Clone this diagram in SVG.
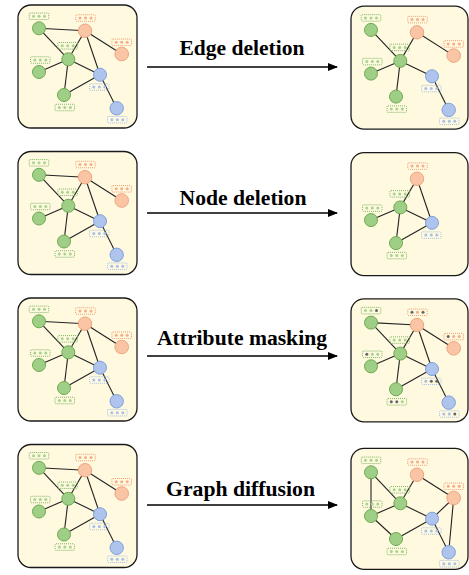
<svg xmlns="http://www.w3.org/2000/svg" width="469" height="575" viewBox="0 0 469 575">
<style>
.panel{fill:#fef9df;stroke:#1a1a1a;stroke-width:1.3}
.edges line{stroke:#222;stroke-width:1.1}
.ng{fill:#9fcf86;stroke:#6eaa52;stroke-width:1}
.no{fill:#f9c5a5;stroke:#f0a57f;stroke-width:1}
.nb{fill:#aec4ec;stroke:#7fa0da;stroke-width:1}
.lab{fill:none;stroke-width:1;stroke-dasharray:1 1}
.lg{stroke:#7db562}.lo{stroke:#f29a6c}.lb{stroke:#a8bfe8}
.dg{fill:#a8d48e}.do{fill:#f4ae88}.db{fill:#a9c1ea}.dm{fill:#666}
.arrow{stroke:#000;stroke-width:1.3;fill:none}
.t{font-family:"Liberation Serif","Times New Roman",serif;font-weight:bold;font-size:20px;fill:#000;text-anchor:middle}
</style>
<defs>
<marker id="ah" markerWidth="10" markerHeight="8" refX="9" refY="4" orient="auto" markerUnits="userSpaceOnUse">
<path d="M0,0 L10,4 L0,8 Z" fill="#000"/>
</marker>
<g id="lab-g"><rect class="lab lg" x="-9.75" y="-3.25" width="19.5" height="6.5" rx="1"/><circle class="dg" cx="-5.5" cy="0" r="1.5"/><circle class="dg" cx="0" cy="0" r="1.5"/><circle class="dg" cx="5.5" cy="0" r="1.5"/></g>
<g id="lab-o"><rect class="lab lo" x="-9.75" y="-3.25" width="19.5" height="6.5" rx="1"/><circle class="do" cx="-5.5" cy="0" r="1.5"/><circle class="do" cx="0" cy="0" r="1.5"/><circle class="do" cx="5.5" cy="0" r="1.5"/></g>
<g id="lab-b"><rect class="lab lb" x="-9.75" y="-3.25" width="19.5" height="6.5" rx="1"/><circle class="db" cx="-5.5" cy="0" r="1.5"/><circle class="db" cx="0" cy="0" r="1.5"/><circle class="db" cx="5.5" cy="0" r="1.5"/></g>
</defs>

<!-- Row 1 left -->
<g id="row1-left" transform="translate(0,0)">
<rect class="panel" x="18" y="5" width="119" height="123" rx="13"/>
<g class="edges">
<line x1="39" y1="28.3" x2="85" y2="30.7"/><line x1="39" y1="28.3" x2="68.3" y2="59.3"/><line x1="85" y1="30.7" x2="68.3" y2="59.3"/><line x1="85" y1="30.7" x2="121.7" y2="54"/><line x1="85" y1="30.7" x2="100" y2="74.7"/><line x1="68.3" y1="59.3" x2="39" y2="72"/><line x1="68.3" y1="59.3" x2="100" y2="74.7"/><line x1="68.3" y1="59.3" x2="64" y2="95"/><line x1="64" y1="95" x2="100" y2="74.7"/><line x1="100" y1="74.7" x2="116.7" y2="108.3"/>
</g>
<g id="r1l-g1"><circle class="ng" cx="39" cy="28.3" r="6.5"/><use href="#lab-g" x="39" y="16.3"/></g>
<g id="r1l-o1"><circle class="no" cx="85" cy="30.7" r="6.7"/><use href="#lab-o" x="85.5" y="18"/></g>
<g id="r1l-o2"><circle class="no" cx="121.7" cy="54" r="6.8"/><use href="#lab-o" x="121.7" y="42.3"/></g>
<g id="r1l-g2"><circle class="ng" cx="68.3" cy="59.3" r="6.5"/><use href="#lab-g" x="67.7" y="45.8"/></g>
<g id="r1l-g3"><circle class="ng" cx="39" cy="72" r="6.5"/><use href="#lab-g" x="40.3" y="60"/></g>
<g id="r1l-b1"><circle class="nb" cx="100" cy="74.7" r="6.5"/><use href="#lab-b" x="99.3" y="87"/></g>
<g id="r1l-g4"><circle class="ng" cx="64" cy="95" r="6.5"/><use href="#lab-g" x="64.8" y="107.5"/></g>
<g id="r1l-b2"><circle class="nb" cx="116.7" cy="108.3" r="6.7"/><use href="#lab-b" x="117.3" y="119.7"/></g>
</g>

<!-- Row 2 left -->
<g id="row2-left" transform="translate(0,146.5)">
<rect class="panel" x="18" y="5" width="119" height="123" rx="13"/>
<g class="edges">
<line x1="39" y1="28.3" x2="85" y2="30.7"/><line x1="39" y1="28.3" x2="68.3" y2="59.3"/><line x1="85" y1="30.7" x2="68.3" y2="59.3"/><line x1="85" y1="30.7" x2="121.7" y2="54"/><line x1="85" y1="30.7" x2="100" y2="74.7"/><line x1="68.3" y1="59.3" x2="39" y2="72"/><line x1="68.3" y1="59.3" x2="100" y2="74.7"/><line x1="68.3" y1="59.3" x2="64" y2="95"/><line x1="64" y1="95" x2="100" y2="74.7"/><line x1="100" y1="74.7" x2="116.7" y2="108.3"/>
</g>
<g id="r2l-g1"><circle class="ng" cx="39" cy="28.3" r="6.5"/><use href="#lab-g" x="39" y="16.3"/></g>
<g id="r2l-o1"><circle class="no" cx="85" cy="30.7" r="6.7"/><use href="#lab-o" x="85.5" y="18"/></g>
<g id="r2l-o2"><circle class="no" cx="121.7" cy="54" r="6.8"/><use href="#lab-o" x="121.7" y="42.3"/></g>
<g id="r2l-g2"><circle class="ng" cx="68.3" cy="59.3" r="6.5"/><use href="#lab-g" x="67.7" y="45.8"/></g>
<g id="r2l-g3"><circle class="ng" cx="39" cy="72" r="6.5"/><use href="#lab-g" x="40.3" y="60"/></g>
<g id="r2l-b1"><circle class="nb" cx="100" cy="74.7" r="6.5"/><use href="#lab-b" x="99.3" y="87"/></g>
<g id="r2l-g4"><circle class="ng" cx="64" cy="95" r="6.5"/><use href="#lab-g" x="64.8" y="107.5"/></g>
<g id="r2l-b2"><circle class="nb" cx="116.7" cy="108.3" r="6.7"/><use href="#lab-b" x="117.3" y="119.7"/></g>
</g>

<!-- Row 3 left -->
<g id="row3-left" transform="translate(0,293)">
<rect class="panel" x="18" y="5" width="119" height="123" rx="13"/>
<g class="edges">
<line x1="39" y1="28.3" x2="85" y2="30.7"/><line x1="39" y1="28.3" x2="68.3" y2="59.3"/><line x1="85" y1="30.7" x2="68.3" y2="59.3"/><line x1="85" y1="30.7" x2="121.7" y2="54"/><line x1="85" y1="30.7" x2="100" y2="74.7"/><line x1="68.3" y1="59.3" x2="39" y2="72"/><line x1="68.3" y1="59.3" x2="100" y2="74.7"/><line x1="68.3" y1="59.3" x2="64" y2="95"/><line x1="64" y1="95" x2="100" y2="74.7"/><line x1="100" y1="74.7" x2="116.7" y2="108.3"/>
</g>
<g id="r3l-g1"><circle class="ng" cx="39" cy="28.3" r="6.5"/><use href="#lab-g" x="39" y="16.3"/></g>
<g id="r3l-o1"><circle class="no" cx="85" cy="30.7" r="6.7"/><use href="#lab-o" x="85.5" y="18"/></g>
<g id="r3l-o2"><circle class="no" cx="121.7" cy="54" r="6.8"/><use href="#lab-o" x="121.7" y="42.3"/></g>
<g id="r3l-g2"><circle class="ng" cx="68.3" cy="59.3" r="6.5"/><use href="#lab-g" x="67.7" y="45.8"/></g>
<g id="r3l-g3"><circle class="ng" cx="39" cy="72" r="6.5"/><use href="#lab-g" x="40.3" y="60"/></g>
<g id="r3l-b1"><circle class="nb" cx="100" cy="74.7" r="6.5"/><use href="#lab-b" x="99.3" y="87"/></g>
<g id="r3l-g4"><circle class="ng" cx="64" cy="95" r="6.5"/><use href="#lab-g" x="64.8" y="107.5"/></g>
<g id="r3l-b2"><circle class="nb" cx="116.7" cy="108.3" r="6.7"/><use href="#lab-b" x="117.3" y="119.7"/></g>
</g>

<!-- Row 4 left -->
<g id="row4-left" transform="translate(0,439.5)">
<rect class="panel" x="18" y="5" width="119" height="123" rx="13"/>
<g class="edges">
<line x1="39" y1="28.3" x2="85" y2="30.7"/><line x1="39" y1="28.3" x2="68.3" y2="59.3"/><line x1="85" y1="30.7" x2="68.3" y2="59.3"/><line x1="85" y1="30.7" x2="121.7" y2="54"/><line x1="85" y1="30.7" x2="100" y2="74.7"/><line x1="68.3" y1="59.3" x2="39" y2="72"/><line x1="68.3" y1="59.3" x2="100" y2="74.7"/><line x1="68.3" y1="59.3" x2="64" y2="95"/><line x1="64" y1="95" x2="100" y2="74.7"/><line x1="100" y1="74.7" x2="116.7" y2="108.3"/>
</g>
<g id="r4l-g1"><circle class="ng" cx="39" cy="28.3" r="6.5"/><use href="#lab-g" x="39" y="16.3"/></g>
<g id="r4l-o1"><circle class="no" cx="85" cy="30.7" r="6.7"/><use href="#lab-o" x="85.5" y="18"/></g>
<g id="r4l-o2"><circle class="no" cx="121.7" cy="54" r="6.8"/><use href="#lab-o" x="121.7" y="42.3"/></g>
<g id="r4l-g2"><circle class="ng" cx="68.3" cy="59.3" r="6.5"/><use href="#lab-g" x="67.7" y="45.8"/></g>
<g id="r4l-g3"><circle class="ng" cx="39" cy="72" r="6.5"/><use href="#lab-g" x="40.3" y="60"/></g>
<g id="r4l-b1"><circle class="nb" cx="100" cy="74.7" r="6.5"/><use href="#lab-b" x="99.3" y="87"/></g>
<g id="r4l-g4"><circle class="ng" cx="64" cy="95" r="6.5"/><use href="#lab-g" x="64.8" y="107.5"/></g>
<g id="r4l-b2"><circle class="nb" cx="116.7" cy="108.3" r="6.7"/><use href="#lab-b" x="117.3" y="119.7"/></g>
</g>

<!-- Row 1 right: edge deletion -->
<g id="row1-right" transform="translate(332,1.6)">
<rect class="panel" x="19" y="4.5" width="117" height="123" rx="13"/>
<g class="edges">
<line x1="39" y1="28.3" x2="68.3" y2="59.3"/><line x1="85" y1="30.7" x2="68.3" y2="59.3"/><line x1="85" y1="30.7" x2="121.7" y2="54"/><line x1="68.3" y1="59.3" x2="39" y2="72"/><line x1="68.3" y1="59.3" x2="100" y2="74.7"/><line x1="68.3" y1="59.3" x2="64" y2="95"/><line x1="100" y1="74.7" x2="116.7" y2="108.3"/>
</g>
<g id="r1r-g1"><circle class="ng" cx="39" cy="28.3" r="6.5"/><use href="#lab-g" x="39" y="16.3"/></g>
<g id="r1r-o1"><circle class="no" cx="85" cy="30.7" r="6.7"/><use href="#lab-o" x="85.5" y="18"/></g>
<g id="r1r-o2"><circle class="no" cx="121.7" cy="54" r="6.8"/><use href="#lab-o" x="121.7" y="42.3"/></g>
<g id="r1r-g2"><circle class="ng" cx="68.3" cy="59.3" r="6.5"/><use href="#lab-g" x="67.7" y="45.8"/></g>
<g id="r1r-g3"><circle class="ng" cx="39" cy="72" r="6.5"/><use href="#lab-g" x="40.3" y="60"/></g>
<g id="r1r-b1"><circle class="nb" cx="100" cy="74.7" r="6.5"/><use href="#lab-b" x="99.3" y="87"/></g>
<g id="r1r-g4"><circle class="ng" cx="64" cy="95" r="6.5"/><use href="#lab-g" x="64.8" y="107.5"/></g>
<g id="r1r-b2"><circle class="nb" cx="116.7" cy="108.3" r="6.7"/><use href="#lab-b" x="117.3" y="119.7"/></g>
</g>

<!-- Row 2 right: node deletion -->
<g id="row2-right" transform="translate(332,148.1)">
<rect class="panel" x="19" y="4.5" width="117" height="123" rx="13"/>
<g class="edges">
<line x1="85" y1="30.7" x2="68.3" y2="59.3"/><line x1="85" y1="30.7" x2="100" y2="74.7"/><line x1="68.3" y1="59.3" x2="39" y2="72"/><line x1="68.3" y1="59.3" x2="100" y2="74.7"/><line x1="68.3" y1="59.3" x2="64" y2="95"/><line x1="64" y1="95" x2="100" y2="74.7"/>
</g>
<g id="r2r-o1"><circle class="no" cx="85" cy="30.7" r="6.7"/><use href="#lab-o" x="85.5" y="18"/></g>
<g id="r2r-g2"><circle class="ng" cx="68.3" cy="59.3" r="6.5"/><use href="#lab-g" x="67.7" y="45.8"/></g>
<g id="r2r-g3"><circle class="ng" cx="39" cy="72" r="6.5"/><use href="#lab-g" x="40.3" y="60"/></g>
<g id="r2r-b1"><circle class="nb" cx="100" cy="74.7" r="6.5"/><use href="#lab-b" x="99.3" y="87"/></g>
<g id="r2r-g4"><circle class="ng" cx="64" cy="95" r="6.5"/><use href="#lab-g" x="64.8" y="107.5"/></g>
</g>

<!-- Row 3 right: attribute masking -->
<g id="row3-right" transform="translate(332,294.3)">
<rect class="panel" x="19" y="4.5" width="117" height="123" rx="13"/>
<g class="edges">
<line x1="39" y1="28.3" x2="85" y2="30.7"/><line x1="39" y1="28.3" x2="68.3" y2="59.3"/><line x1="85" y1="30.7" x2="68.3" y2="59.3"/><line x1="85" y1="30.7" x2="121.7" y2="54"/><line x1="85" y1="30.7" x2="100" y2="74.7"/><line x1="68.3" y1="59.3" x2="39" y2="72"/><line x1="68.3" y1="59.3" x2="100" y2="74.7"/><line x1="68.3" y1="59.3" x2="64" y2="95"/><line x1="64" y1="95" x2="100" y2="74.7"/><line x1="100" y1="74.7" x2="116.7" y2="108.3"/>
</g>
<g id="r3r-g1"><circle class="ng" cx="39" cy="28.3" r="6.5"/><g transform="translate(39,16.3)"><rect class="lab lg" x="-9.75" y="-3.25" width="19.5" height="6.5" rx="1"/><circle class="dg" cx="-5.5" cy="0" r="1.5"/><circle class="dg" cx="0" cy="0" r="1.5"/><circle class="dm" cx="5.5" cy="0" r="1.5"/></g></g>
<g id="r3r-o1"><circle class="no" cx="85" cy="30.7" r="6.7"/><g transform="translate(85.5,18)"><rect class="lab lo" x="-9.75" y="-3.25" width="19.5" height="6.5" rx="1"/><circle class="dm" cx="-5.5" cy="0" r="1.5"/><circle class="do" cx="0" cy="0" r="1.5"/><circle class="dm" cx="5.5" cy="0" r="1.5"/></g></g>
<g id="r3r-o2"><circle class="no" cx="121.7" cy="54" r="6.8"/><g transform="translate(121.7,42.3)"><rect class="lab lo" x="-9.75" y="-3.25" width="19.5" height="6.5" rx="1"/><circle class="dm" cx="-5.5" cy="0" r="1.5"/><circle class="do" cx="0" cy="0" r="1.5"/><circle class="do" cx="5.5" cy="0" r="1.5"/></g></g>
<g id="r3r-g2"><circle class="ng" cx="68.3" cy="59.3" r="6.5"/><g transform="translate(67.7,45.8)"><rect class="lab lg" x="-9.75" y="-3.25" width="19.5" height="6.5" rx="1"/><circle class="dg" cx="-5.5" cy="0" r="1.5"/><circle class="dg" cx="0" cy="0" r="1.5"/><circle class="dg" cx="5.5" cy="0" r="1.5"/></g></g>
<g id="r3r-g3"><circle class="ng" cx="39" cy="72" r="6.5"/><g transform="translate(40.3,60)"><rect class="lab lg" x="-9.75" y="-3.25" width="19.5" height="6.5" rx="1"/><circle class="dm" cx="-5.5" cy="0" r="1.5"/><circle class="dg" cx="0" cy="0" r="1.5"/><circle class="dg" cx="5.5" cy="0" r="1.5"/></g></g>
<g id="r3r-b1"><circle class="nb" cx="100" cy="74.7" r="6.5"/><g transform="translate(99.3,87)"><rect class="lab lb" x="-9.75" y="-3.25" width="19.5" height="6.5" rx="1"/><circle class="db" cx="-5.5" cy="0" r="1.5"/><circle class="dm" cx="0" cy="0" r="1.5"/><circle class="dm" cx="5.5" cy="0" r="1.5"/></g></g>
<g id="r3r-g4"><circle class="ng" cx="64" cy="95" r="6.5"/><g transform="translate(64.8,107.5)"><rect class="lab lg" x="-9.75" y="-3.25" width="19.5" height="6.5" rx="1"/><circle class="dm" cx="-5.5" cy="0" r="1.5"/><circle class="dm" cx="0" cy="0" r="1.5"/><circle class="dg" cx="5.5" cy="0" r="1.5"/></g></g>
<g id="r3r-b2"><circle class="nb" cx="116.7" cy="108.3" r="6.7"/><g transform="translate(117.3,119.7)"><rect class="lab lb" x="-9.75" y="-3.25" width="19.5" height="6.5" rx="1"/><circle class="db" cx="-5.5" cy="0" r="1.5"/><circle class="db" cx="0" cy="0" r="1.5"/><circle class="dm" cx="5.5" cy="0" r="1.5"/></g></g>
</g>

<!-- Row 4 right: graph diffusion -->
<g id="row4-right" transform="translate(332,444)">
<rect class="panel" x="19" y="4.3" width="117" height="121" rx="13"/>
<g class="edges">
<line x1="39" y1="28.3" x2="39" y2="72"/><line x1="39" y1="28.3" x2="68.3" y2="59.3"/><line x1="85" y1="30.7" x2="68.3" y2="59.3"/><line x1="85" y1="30.7" x2="121.7" y2="54"/><line x1="68.3" y1="59.3" x2="39" y2="72"/><line x1="39" y1="72" x2="64" y2="95"/><line x1="68.3" y1="59.3" x2="100" y2="74.7"/><line x1="64" y1="95" x2="100" y2="74.7"/><line x1="100" y1="74.7" x2="121.7" y2="54"/><line x1="121.7" y1="54" x2="116.7" y2="108.3"/><line x1="100" y1="74.7" x2="116.7" y2="108.3"/>
</g>
<g id="r4r-g1"><circle class="ng" cx="39" cy="28.3" r="6.5"/><use href="#lab-g" x="39" y="16.3"/></g>
<g id="r4r-o1"><circle class="no" cx="85" cy="30.7" r="6.7"/><use href="#lab-o" x="85.5" y="18"/></g>
<g id="r4r-o2"><circle class="no" cx="121.7" cy="54" r="6.8"/><use href="#lab-o" x="121.7" y="42.3"/></g>
<g id="r4r-g2"><circle class="ng" cx="68.3" cy="59.3" r="6.5"/><use href="#lab-g" x="67.7" y="45.8"/></g>
<g id="r4r-g3"><circle class="ng" cx="39" cy="72" r="6.5"/><use href="#lab-g" x="40.3" y="60"/></g>
<g id="r4r-b1"><circle class="nb" cx="100" cy="74.7" r="6.5"/><use href="#lab-b" x="99.3" y="87"/></g>
<g id="r4r-g4"><circle class="ng" cx="64" cy="95" r="6.5"/><use href="#lab-g" x="64.8" y="107.5"/></g>
<g id="r4r-b2"><circle class="nb" cx="116.7" cy="108.3" r="6.7"/><use href="#lab-b" x="117.3" y="119.7"/></g>
</g>

<!-- Transformation arrows -->
<g id="arrows">
<line class="arrow" x1="147" y1="67" x2="337" y2="67" marker-end="url(#ah)"/>
<line class="arrow" x1="147" y1="213" x2="337" y2="213" marker-end="url(#ah)"/>
<line class="arrow" x1="147" y1="356" x2="337" y2="356" marker-end="url(#ah)"/>
<line class="arrow" x1="147" y1="505" x2="337" y2="505" marker-end="url(#ah)"/>
</g>
<g id="labels">
<text class="t" x="242" y="55" textLength="125" lengthAdjust="spacingAndGlyphs">Edge deletion</text>
<text class="t" x="243" y="205" textLength="127" lengthAdjust="spacingAndGlyphs">Node deletion</text>
<text class="t" x="242" y="345" textLength="170" lengthAdjust="spacingAndGlyphs">Attribute masking</text>
<text class="t" x="240.5" y="496" textLength="149" lengthAdjust="spacingAndGlyphs">Graph diffusion</text>
</g>
</svg>
